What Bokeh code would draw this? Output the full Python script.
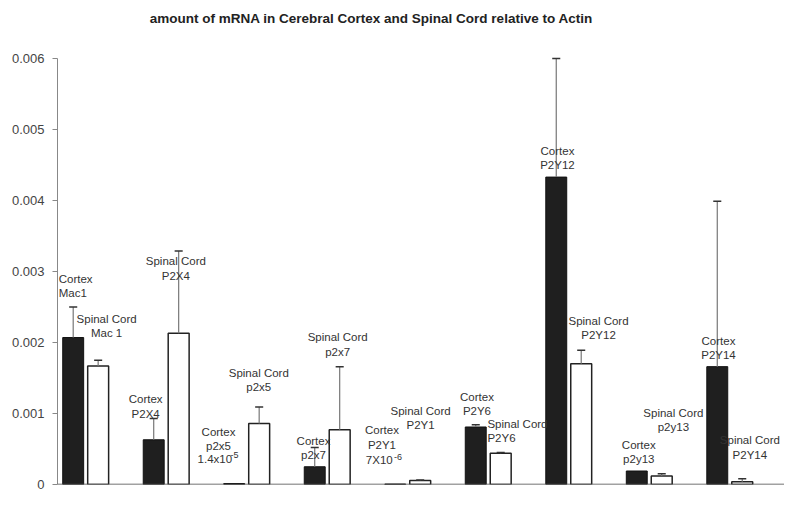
from bokeh.plotting import figure
from bokeh.models import Range1d, FixedTicker, Span, Label
from bokeh.core.properties import value
from bokeh.embed import file_html
from bokeh.resources import INLINE

# ---- data (values in mRNA relative to Actin) ----
genes = ["Mac1", "P2X4", "p2x5", "p2x7", "P2Y1", "P2Y6", "P2Y12", "p2y13", "P2Y14"]
cortex = [0.00207, 0.00063, 0.000014, 0.00025, 0.000007, 0.00081, 0.00433, 0.00019, 0.00166]
cortex_err = [0.00043, 0.00030, 0.0, 0.00027, 0.0, 0.00003, 0.00167, 0.0, 0.00233]
spinal = [0.00167, 0.00213, 0.00086, 0.00077, 0.000055, 0.00044, 0.00170, 0.00012, 0.00004]
spinal_err = [0.00008, 0.00116, 0.00023, 0.00089, 0.00001, 0.00001, 0.00019, 0.00003, 0.00004]
y_ticks = [0.0, 0.001, 0.002, 0.003, 0.004, 0.005, 0.006]
y_tick_labels = ["0", "0.001", "0.002", "0.003", "0.004", "0.005", "0.006"]
title_text = "amount of mRNA in Cerebral Cortex and Spinal Cord relative to Actin"

# annotation texts: (text, x position in group units, y position, align)
labels = [
    ("Cortex\nMac1", -0.335, 0.00280, "left"),
    ("Spinal Cord\nMac 1", 0.26, 0.00223, "center"),
    ("Cortex\nP2X4", 0.745, 0.00110, "center"),
    ("Spinal Cord\nP2X4", 1.12, 0.00304, "center"),
    ("Cortex\np2x5", 1.65, 0.00064, "center"),
    ("Spinal Cord\np2x5", 2.15, 0.00147, "center"),
    ("Cortex\np2x7", 2.83, 0.00051, "center"),
    ("Spinal Cord\np2x7", 3.13, 0.00197, "center"),
    ("Cortex\nP2Y1", 3.68, 0.00066, "center"),
    ("Spinal Cord\nP2Y1", 4.16, 0.00094, "center"),
    ("Cortex\nP2Y6", 4.86, 0.00113, "center"),
    ("Spinal Cord\nP2Y6", 4.99, 0.00075, "left"),
    ("Cortex\nP2Y12", 5.86, 0.00460, "center"),
    ("Spinal Cord\nP2Y12", 6.37, 0.00220, "center"),
    ("Cortex\np2y13", 6.87, 0.00046, "center"),
    ("Spinal Cord\np2y13", 7.30, 0.00091, "center"),
    ("Cortex\nP2Y14", 7.86, 0.00192, "center"),
    ("Spinal Cord\nP2Y14", 8.25, 0.00052, "center"),
]
# small-value notes with superscript exponents: (base, exponent, x, y, x of exponent)
notes = [
    ("1.4x10", "-5", 1.39, 0.00036, 1.80),
    ("7X10", "-6", 3.48, 0.00034, 3.83),
]

FONT = value("Liberation Sans")
TXT = "#333333"

# frame spans nearly the full height so that the title can sit inside it
p = figure(width=784, height=492, output_backend="svg", toolbar_location=None,
           x_range=Range1d(-0.35, 8.68), y_range=Range1d(0, 0.006789),
           min_border_left=57, min_border_right=0, min_border_top=2, min_border_bottom=8)

p.xaxis.visible = False
p.xgrid.visible = False
p.ygrid.visible = False
p.outline_line_color = None

ya = p.yaxis[0]
ya.ticker = FixedTicker(ticks=y_ticks, minor_ticks=[])
ya.bounds = (0, 0.006)
ya.major_label_overrides = {t: l for t, l in zip(y_ticks, y_tick_labels)}
ya.axis_line_color = "#888888"
ya.major_tick_line_color = "#888888"
ya.major_tick_out = 5
ya.major_tick_in = 0
ya.minor_tick_line_color = None
ya.major_label_standoff = 8
ya.major_label_text_font = "Liberation Sans"
ya.major_label_text_font_size = "13px"
ya.major_label_text_color = "#444444"

p.add_layout(Span(location=0, dimension="width", line_color="#444444", line_width=1.5))

xs = list(range(len(genes)))
off = 0.155
bw = 0.26
xc = [x - off for x in xs]
xsp = [x + off for x in xs]

p.vbar(x=xc, top=cortex, bottom=0, width=bw, fill_color="#1f1f1f", line_color="#111111", line_width=1)
p.vbar(x=xsp, top=spinal, bottom=0, width=bw, fill_color="white", line_color="#222222", line_width=1.5)

# error bars
cap = 0.05
for xarr, vals, errs in ((xc, cortex, cortex_err), (xsp, spinal, spinal_err)):
    ex = [x for x, e in zip(xarr, errs) if e > 0]
    y0 = [v for v, e in zip(vals, errs) if e > 0]
    y1 = [v + e for v, e in zip(vals, errs) if e > 0]
    p.segment(x0=ex, y0=y0, x1=ex, y1=y1, line_color="#777777", line_width=1.2)
    p.segment(x0=[x - cap for x in ex], y0=y1, x1=[x + cap for x in ex], y1=y1,
              line_color="#333333", line_width=1.5)

for align in ("left", "center"):
    sel = [l for l in labels if l[3] == align]
    p.text(x=[l[1] for l in sel], y=[l[2] for l in sel], text=[l[0] for l in sel],
           text_font=FONT, text_font_size="11.5px", text_color=TXT,
           text_align=align, text_baseline="middle", text_line_height=1.2)

p.text(x=[n[2] for n in notes], y=[n[3] for n in notes], text=[n[0] for n in notes],
       text_font=FONT, text_font_size="11.5px", text_color=TXT,
       text_align="left", text_baseline="middle")
p.text(x=[n[4] for n in notes], y=[n[3] + 0.00005 for n in notes], text=[n[1] for n in notes],
       text_font=FONT, text_font_size="9px", text_color=TXT,
       text_align="left", text_baseline="middle")

title = Label(x=3.55, y=0.006563, text=title_text, text_align="center", text_baseline="middle",
              text_font="Liberation Sans", text_font_style="bold", text_font_size="13.5px",
              text_color="#222222")
p.add_layout(title)

open("out.html", "w").write(file_html(p, INLINE))
